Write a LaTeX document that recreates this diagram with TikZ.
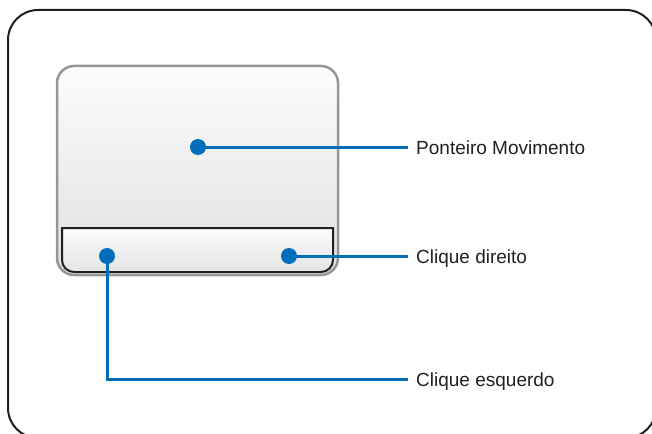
\documentclass[tikz,border=0pt]{standalone}
\usepackage{fontspec}
\setmainfont{Liberation Sans}
\definecolor{frameink}{RGB}{35,31,32}
\definecolor{padedge}{RGB}{150,150,152}
\definecolor{padtop}{RGB}{252,252,252}
\definecolor{padbot}{RGB}{224,224,226}
\definecolor{bartop}{RGB}{251,251,251}
\definecolor{barbot}{RGB}{228,228,230}
\definecolor{callout}{RGB}{0,110,184}
\begin{document}
\begin{tikzpicture}[x=1pt,y=-1pt,
  dot/.style={circle,fill=callout,inner sep=0pt,minimum size=16pt},
  lead/.style={draw=callout,line width=3pt},
  lbl/.style={anchor=base west,inner sep=0pt,font=\fontsize{19}{22}\selectfont,text=frameink}]
\useasboundingbox (0,0) rectangle (652,433);
\begin{scope}
\clip (0,0) rectangle (652,433);
\draw[frameink,line width=2pt,rounded corners=30pt] (8,10) rectangle (656,438);
\end{scope}
% touchpad
\path[draw=padedge,line width=2.5pt,rounded corners=17pt,top color=padtop,bottom color=padbot] (57,66) rectangle (338,275);
% button bar
\path[draw=frameink,line width=2pt,top color=bartop,bottom color=barbot]
  (62,228) -- (62,260) arc[start angle=180,end angle=90,radius=12]
  -- (321,272) arc[start angle=90,end angle=0,radius=12] -- (333,228) -- cycle;
% callout ends
\coordinate (endP) at (408,147);
\coordinate (endR) at (408,256);
\coordinate (bendL) at (107,379);
\coordinate (endL) at (408,379);
% leaders
\draw[lead] (198,147) -- (endP);
\draw[lead] (289,256) -- (endR);
\draw[lead] (107,256) -- (bendL) -- (endL);
% dots
\node[dot] (dotP) at (198,147) {};
\node[dot] (dotR) at (289,256) {};
\node[dot] (dotL) at (107,256) {};
% labels
\node[lbl] (lblP) at (416,154) {Ponteiro Movimento};
\node[lbl] (lblR) at (416,263) {Clique direito};
\node[lbl] (lblL) at (416,386) {Clique esquerdo};
\end{tikzpicture}
\end{document}
